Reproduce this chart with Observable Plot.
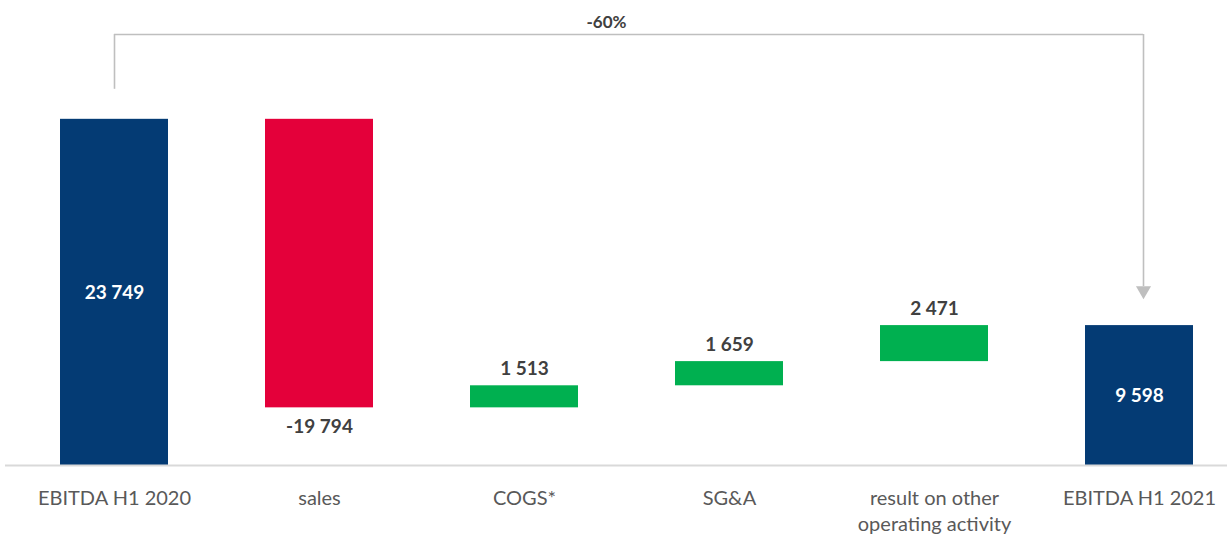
<!DOCTYPE html>
<html>
<head>
<meta charset="utf-8">
<script src="https://cdn.jsdelivr.net/npm/d3@7"></script>
<script src="https://cdn.jsdelivr.net/npm/@observablehq/plot@0.6"></script>
<style>
  html, body { margin: 0; padding: 0; background: #fff; }
  #chart svg { display: block; }
</style>
</head>
<body>
<div id="chart"></div>
<script>
const categories = ["EBITDA H1 2020", "sales", "COGS*", "SG&A", "result on other\noperating activity", "EBITDA H1 2021"];
const values = [23749, -19794, 1513, 1659, 2471, 9598];
const kinds = ["total", "delta", "delta", "delta", "delta", "total"];
const changeLabel = "-60%";

const colors = { total: "#043B74", up: "#00B050", down: "#E4003A" };
const fmt = v => d3.format(",")(v).replace(/,/g, " ").replace("\u2212", "-");

let run = 0;
const rows = categories.map((c, i) => {
  const v = values[i];
  let y1, y2, color;
  if (kinds[i] === "total") { y1 = 0; y2 = v; run = v; color = colors.total; }
  else { y1 = run; y2 = run + v; run = y2; color = v >= 0 ? colors.up : colors.down; }
  return { cat: c, value: v, kind: kinds[i], y1, y2, color, label: fmt(v) };
});

const start = rows[0], end = rows[rows.length - 1];
const bracketY = start.value * 1.245;

const font = "Lato, 'Open Sans', sans-serif";

const chart = Plot.plot({
  width: 1227,
  height: 536,
  marginTop: 0,
  marginBottom: 71,
  marginLeft: 59,
  marginRight: 34,
  style: { fontFamily: font, background: "#fff", overflow: "visible" },
  x: { domain: categories, paddingInner: 0.474, paddingOuter: 0, axis: null },
  y: { domain: [0, 31900], axis: null },
  marks: [
    Plot.barY(rows, { x: "cat", y1: "y1", y2: "y2", fill: "color" }),
    Plot.ruleY([0], { stroke: "#D9D9D9", strokeWidth: 2, insetLeft: -54, insetRight: -34 }),
    Plot.text(rows.filter(d => d.kind === "total"), {
      x: "cat", y: d => (d.y1 + d.y2) / 2, text: "label",
      fill: "white", fontWeight: "bold", fontSize: 19
    }),
    Plot.text(rows.filter(d => d.kind === "delta" && d.value >= 0), {
      x: "cat", y: "y2", text: "label", dy: -17,
      fill: "#404040", fontWeight: "bold", fontSize: 19
    }),
    Plot.text(rows.filter(d => d.kind === "delta" && d.value < 0), {
      x: "cat", y: "y2", text: "label", dy: 19,
      fill: "#404040", fontWeight: "bold", fontSize: 19
    }),
    Plot.text(rows, {
      x: "cat", y: 0, text: "cat", lineAnchor: "top", dy: 21,
      fill: "#595959", fontSize: 20, lineHeight: 1.3
    }),
    Plot.ruleY([bracketY], { x1: () => start.cat, x2: () => end.cat, stroke: "#BFBFBF", strokeWidth: 1.6, insetLeft: 54, insetRight: 50 }),
    Plot.ruleX([start], { x: "cat", y1: () => bracketY, y2: "y2", stroke: "#BFBFBF", strokeWidth: 1.6, insetBottom: 30 }),
    Plot.ruleX([end], { x: "cat", y1: () => bracketY, y2: "y2", dx: 4, stroke: "#BFBFBF", strokeWidth: 1.6, insetBottom: 39 }),
    Plot.dot([end], { x: "cat", y: "y2", dx: 4, dy: -35, symbol: "triangle", rotate: 180, r: 5.6, fill: "#BFBFBF", stroke: "none" }),
    Plot.text([changeLabel], { y: () => bracketY, text: d => d, frameAnchor: "middle", dx: -20, dy: -12, fill: "#404040", fontWeight: "bold", fontSize: 17 })
  ]
});
document.getElementById("chart").appendChild(chart);
</script>
</body>
</html>
